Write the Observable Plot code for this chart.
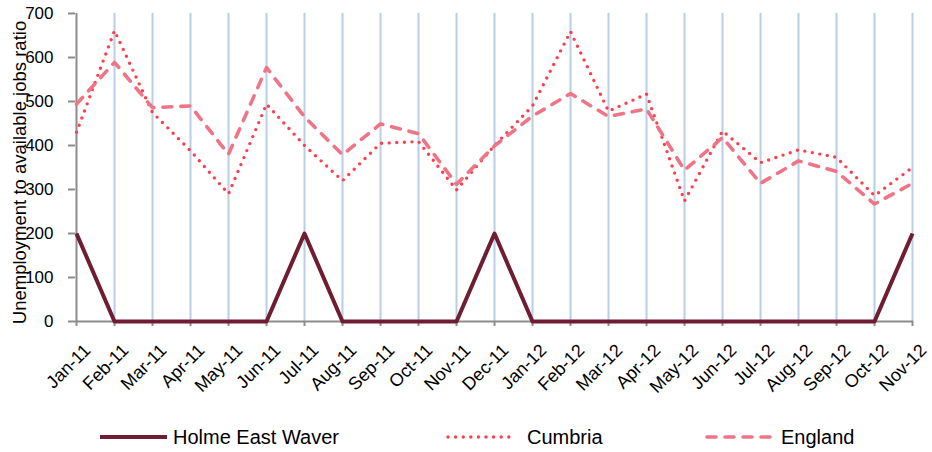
<!DOCTYPE html>
<html>
<head>
<meta charset="utf-8">
<script src="https://cdn.jsdelivr.net/npm/d3@7"></script>
<script src="https://cdn.jsdelivr.net/npm/@observablehq/plot@0.6"></script>
<style>
  html, body { margin: 0; padding: 0; background: #fff; }
  body { width: 932px; height: 452px; overflow: hidden; font-family: "Liberation Sans", Arial, sans-serif; }
  #legend { position: relative; width: 932px; height: 52px; }
  .item { position: absolute; top: 0; height: 52px; }
  .item svg { position: absolute; top: 0; left: 0; }
  .item span { position: absolute; top: 24px; font-size: 20px; line-height: 26px; color: #000; white-space: nowrap; }
</style>
</head>
<body>
<div id="chart"></div>
<div id="legend"></div>
<script>
const months = ["Jan-11","Feb-11","Mar-11","Apr-11","May-11","Jun-11","Jul-11","Aug-11","Sep-11","Oct-11","Nov-11","Dec-11",
                "Jan-12","Feb-12","Mar-12","Apr-12","May-12","Jun-12","Jul-12","Aug-12","Sep-12","Oct-12","Nov-12"];
const holme    = [200,0,0,0,0,0,200,0,0,0,0,200,0,0,0,0,0,0,0,0,0,0,200];
const cumbria  = [430,661,475,388,290,494,400,320,405,409,299,400,490,659,478,517,274,433,361,390,373,286,350];
const england  = [494,589,486,490,380,577,465,379,449,427,312,399,467,518,466,483,344,418,314,365,341,267,314];
const yTicks   = [0,100,200,300,400,500,600,700];
const seriesNames = ["Holme East Waver","Cumbria","England"];
const yLabel = "Unemployment to available jobs ratio";

const styles = {
  "Holme East Waver": {stroke:"#6F1D33", strokeWidth:4, dash:null, cap:"butt"},
  "Cumbria": {stroke:"#FF3D4C", strokeWidth:3.4, dash:"0 7.6", cap:"round"},
  "England": {stroke:"#EF7486", strokeWidth:3.6, dash:"9 9", cap:"round"}
};
const seriesValues = [holme, cumbria, england];
const data = seriesNames.map((name, i) => months.map((m, j) => ({series:name, month:m, value:seriesValues[i][j]})));

const lineMarks = data.map((rows, i) => {
  const s = styles[seriesNames[i]];
  return Plot.line(rows, {x:"month", y:"value", stroke:s.stroke, strokeWidth:s.strokeWidth,
    strokeDasharray:s.dash, strokeLinecap:s.cap, strokeLinejoin:"round"});
});

const chart = Plot.plot({
  width: 932,
  height: 400,
  marginLeft: 75,
  marginRight: 19,
  marginTop: 13,
  marginBottom: 79,
  style: {fontFamily: "'Liberation Sans', Arial, sans-serif", background: "#fff"},
  x: {type:"point", domain: months, padding: 0, axis: null},
  y: {domain:[0,700], axis: null},
  marks: [
    Plot.ruleX(months.slice(1), {x: d => d, y1: 0, y2: 700, stroke:"#B9CDE5", strokeWidth:2}),
    Plot.ruleX([months[0]], {x: d => d, y1: 0, y2: 700, stroke:"#8C8C8C", strokeWidth:2}),
    Plot.axisX({tickSize: 5, tickFormat: () => "", stroke:"#8C8C8C", strokeWidth:2, label:null}),
    Plot.axisY({ticks: yTicks, tickSize: 7, tickPadding: 15, stroke:"#8C8C8C", fill:"#000", strokeWidth:2, fontSize:17, label:null}),
    Plot.ruleY([0], {stroke:"#8C8C8C", strokeWidth:2}),
    Plot.text(months, {x: d => d, y: () => 0, text: d => d, rotate: -45, textAnchor:"end", lineAnchor:"bottom", dx:15, dy:30, fontSize:18, fill:"#000"}),
    Plot.text([yLabel], {frameAnchor:"left", text: d => d, rotate:-90, textAnchor:"middle", dx:-55, dy:5, fontSize:18.5, fill:"#000"}),
    ...lineMarks
  ]
});
document.getElementById("chart").appendChild(chart);

// legend
const legend = document.getElementById("legend");
const legendPos = [{line:98, text:173}, {line:446, text:527}, {line:705, text:781}];
seriesNames.forEach((name, i) => {
  const s = styles[name];
  const p = legendPos[i];
  const item = document.createElement("div");
  item.className = "item";
  item.style.left = p.line + "px";
  const w = 69;
  item.innerHTML = `<svg width="${w+4}" height="52"><line x1="2" x2="${w}" y1="37" y2="37" stroke="${s.stroke}" stroke-width="${s.strokeWidth}" ${s.dash ? `stroke-dasharray="${s.dash}"` : ""} stroke-linecap="${s.cap}"/></svg><span style="left:${p.text - p.line}px">${name}</span>`;
  legend.appendChild(item);
});
</script>
</body>
</html>
